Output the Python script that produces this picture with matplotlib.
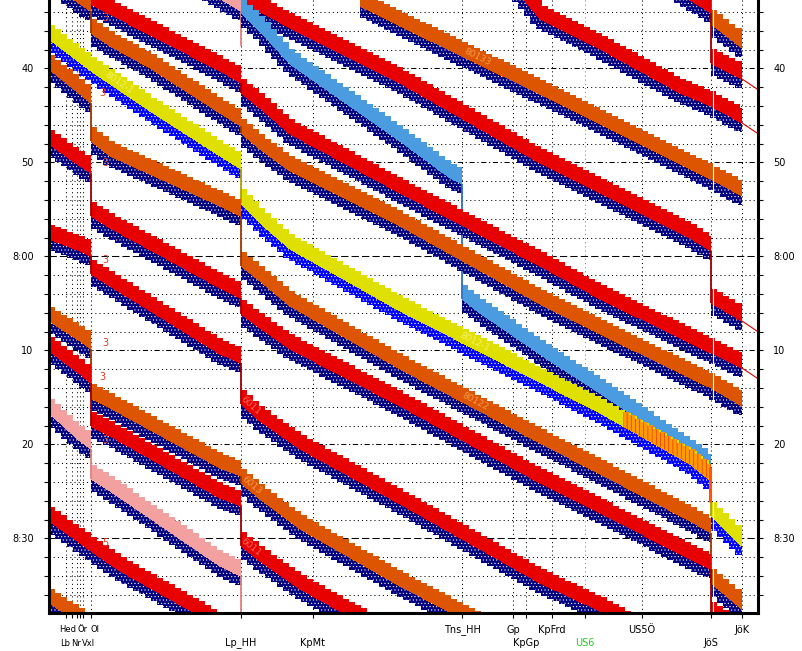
import numpy as np
import matplotlib
matplotlib.use("Agg")
import matplotlib.pyplot as plt
from matplotlib.patches import Polygon

plt.rcParams['font.family'] = ['DejaVu Sans']
plt.rcParams['hatch.linewidth'] = 0.4

# ---------------- stations (km along the line) ----------------
station_names = ["Lb", "Hed", "Nr", "Ör", "Vxl", "Ol", "Lp_HH", "KpMt", "Tns_HH",
                 "Gp", "KpGp", "KpFrd", "US6", "US5Ö", "JöS", "JöK"]
station_km = [1.7, 2.3, 2.8, 3.1, 3.4, 4.2, 19.2, 26.4, 41.3,
              46.4, 47.7, 50.3, 53.6, 59.3, 66.2, 69.3]
station_row = [2, 1, 2, 1, 2, 1, 2, 2, 1, 1, 2, 1, 2, 1, 2, 1]
# label centre (km) where it differs from the tick, and its font size
station_label_km = [1.6, 1.85, 2.75, 3.4, 3.95, 4.6, 19.2, 26.4, 41.3,
                    46.4, 47.7, 50.3, 53.6, 59.3, 66.2, 69.3]
station_label_size = [6, 6, 6, 6, 6, 6, 7, 7, 7, 7, 7, 7, 7, 7, 7, 7]

# ---------------- time axis (minutes after 7:00) ----------------
t_top = 32.73
t_bottom = 97.94
major_minutes = [40, 50, 60, 70, 80, 90]
major_labels = ["40", "50", "8:00", "10", "20", "8:30"]

# ---------------- train paths: (km, minutes after 7:00); repeated km = stop ----------------
tr_o1 = [(64.1, 30.71), (66.2, 31.77), (66.2, 35.28), (69.3, 37.83)]
tr_r1 = [(60.1, 30.17), (65.1, 33.37), (66.2, 34.11), (66.2, 39.43), (69.3, 41.13)]
tr_r2 = [(45.1, 29.64), (49.1, 34.75), (55.1, 37.94), (63.1, 42.62), (66.2, 44.00), (69.3, 45.81)]
tr_o2 = [(31.1, 33.37), (35.1, 35.49), (49.1, 42.73), (55.1, 45.92), (63.1, 50.17), (66.2, 51.77),
         (69.3, 53.58)]
tr_r3 = [(19.2, 32.84), (24.1, 35.71), (35.1, 41.56), (49.1, 50.07), (55.1, 53.26), (64.1, 58.05),
         (65.1, 58.69), (66.2, 59.43), (66.2, 64.96), (69.3, 66.88)]
tr_p1 = [(14.1, 30.71), (19.2, 33.90), (19.2, 37.62)]
tr_b1 = [(19.2, 34.11), (21.1, 36.03), (24.1, 39.54), (35.1, 47.73), (40.1, 51.66), (41.3, 52.30),
         (41.3, 64.54), (43.1, 66.03), (50.1, 71.13), (55.1, 74.54), (65.4, 81.98), (66.2, 82.83)]
tr_r4 = [(4.2, 33.20), (17.1, 40.28), (19.2, 41.56), (19.2, 42.62), (21.1, 44.22), (24.1, 46.98),
         (35.1, 53.26), (49.1, 61.03), (55.1, 64.54), (66.2, 70.28), (69.3, 71.88)]
tr_o3 = [(0.0, 30.71), (3.1, 33.15), (4.2, 33.90), (4.2, 36.24), (6.1, 37.62), (10.1, 39.96),
         (17.1, 44.75), (19.2, 46.13), (19.2, 46.88), (21.1, 48.59), (24.1, 50.92), (35.1, 56.77),
         (49.1, 65.07), (55.1, 68.26), (66.2, 74.00), (69.3, 75.92)]
tr_y1 = [(0.0, 36.88), (4.2, 40.28), (10.1, 44.54), (17.1, 49.32), (19.2, 50.71), (19.2, 54.32),
         (21.1, 56.45), (24.1, 59.22), (35.1, 65.81), (55.1, 76.66), (64.1, 82.09), (66.2, 83.90),
         (66.2, 87.62), (69.3, 90.81)]
tr_o4 = [(0.0, 40.07), (3.1, 42.73), (4.2, 43.69), (4.2, 47.73), (6.1, 49.32), (17.1, 54.64),
         (19.2, 55.71), (19.2, 61.03), (21.1, 62.62), (24.1, 65.28), (35.1, 71.98), (49.1, 79.86),
         (55.1, 83.15), (64.1, 88.15), (66.2, 89.43), (66.2, 94.75), (69.3, 97.52)]
tr_r5 = [(0.0, 48.05), (3.1, 50.39), (4.2, 51.13), (4.2, 55.71), (6.1, 56.98), (17.1, 63.37),
         (19.2, 64.43), (19.2, 66.13), (21.1, 67.62), (24.1, 69.86), (35.1, 75.92), (49.1, 84.11),
         (55.1, 87.30), (64.1, 92.20), (66.2, 93.26), (66.2, 98.26), (69.3, 100.39)]
tr_r6 = [(0.0, 58.15), (3.1, 59.43), (4.2, 59.96), (4.2, 61.88), (6.1, 63.15), (17.1, 70.39),
         (19.2, 71.34), (19.2, 75.71), (21.1, 77.52), (25.1, 80.49), (35.1, 86.34), (49.1, 94.75),
         (55.1, 97.73), (59.1, 100.07)]
tr_o5 = [(0.0, 66.88), (3.1, 69.00), (4.2, 69.86), (4.2, 75.07), (6.1, 76.13), (17.1, 82.52),
         (19.2, 83.37), (19.2, 84.11), (21.1, 85.81), (25.1, 89.00), (35.1, 95.07), (44.1, 100.07)]
tr_r7 = [(0.0, 70.07), (3.1, 72.52), (4.2, 73.47), (4.2, 78.05), (6.1, 79.11), (17.1, 85.71),
         (19.2, 86.56), (19.2, 90.81), (21.1, 92.41), (25.1, 95.39), (33.1, 100.07)]
tr_p2 = [(0.0, 76.66), (3.1, 79.64), (4.2, 80.49), (4.2, 83.69), (6.1, 84.96), (17.1, 92.94),
         (19.2, 94.00), (19.2, 99.60)]
tr_r8 = [(0.0, 88.15), (3.1, 90.49), (4.2, 91.34), (7.1, 93.47), (15.1, 98.26), (18.1, 100.39)]
tr_o6 = [(0.0, 96.88), (5.1, 100.39)]

trains = [(tr_o1, "orange"), (tr_r1, "red"), (tr_r2, "red"), (tr_o2, "orange"), (tr_r3, "red"),
          (tr_p1, "pink"), (tr_b1, "lblue"), (tr_r4, "red"), (tr_o3, "orange"), (tr_y1, "yellow"),
          (tr_o4, "orange"), (tr_r5, "red"), (tr_r6, "red"), (tr_o5, "orange"), (tr_r7, "red"),
          (tr_p2, "pink"), (tr_r8, "red"), (tr_o6, "orange")]

# continuation of red trains beyond JöK (thin line)
extensions = [(tr_r1, (71.1, 42.41)), (tr_r2, (71.1, 47.09)), (tr_r3, (71.1, 68.16)),
              (tr_r4, (71.1, 73.16))]

# conflict zone on the yellow train (km range)
conflict_train = tr_y1
conflict_km = (57.4, 66.2)

# small stop labels at Ol and train numbers
stop_labels = [("3", 5.3, 34.6), ("3", 5.0, 42.6), ("3", 5.3, 50.1), ("3", 5.3, 60.4),
               ("3", 5.3, 69.2), ("3", 5.0, 72.8), ("3", 5.3, 79.5), ("5", 5.3, 90.5)]
train_labels = [("80133", tr_o2, 42.8), ("8012-1", tr_y1, 42.6), ("80122", tr_o4, 42.6),
                ("8012-1", tr_y1, 7.0), ("6013", tr_o5, 20.3), ("6011", tr_r7, 20.2),
                ("6011", tr_r6, 20.2)]

# ---------------- style ----------------
KIND = {
    "red":    ("#e80000", "#000080", "#a00000"),
    "orange": ("#dd5500", "#000080", "#a03800"),
    "yellow": ("#e0e000", "#0000ff", "#b0a000"),
    "lblue":  ("#4a9be0", "#000080", "#3070c0"),
    "pink":   ("#f2a0a0", "#000080", "#e08080"),
}
LABEL_COL = {"red": "#ff6a5a", "orange": "#f59a50", "yellow": "#f6f070", "lblue": "#9ccaf0",
             "pink": "#f5c8c8"}
OCC = 1.45     # blocking time before train line (minutes)
CLR = 0.95     # clearing time after train line (minutes)
BLOCK = 0.6    # block section length (km)


def split_path(path):
    runs, dwells, cur = [], [], [path[0]]
    for p in path[1:]:
        if p[0] == cur[-1][0]:
            dwells.append((p[0], cur[-1][1], p[1]))
            if len(cur) > 1:
                runs.append(cur)
            cur = [p]
        else:
            cur.append(p)
    if len(cur) > 1:
        runs.append(cur)
    return runs, dwells


def band_polys(x, t):
    b = np.arange(x[0], x[-1], BLOCK)
    b = np.append(b, x[-1])
    if len(b) > 2 and b[-1] - b[-2] < 0.25 * BLOCK:
        b = np.delete(b, -2)
    tb = np.interp(b, x, t)
    xd = np.linspace(x[0], x[-1], 300)
    td = np.interp(xd, x, t)
    up, lo = [], []
    for k in range(len(b) - 1):
        up += [(b[k], tb[k] - OCC), (b[k + 1], tb[k] - OCC)]
        lo += [(b[k], tb[k + 1] + CLR), (b[k + 1], tb[k + 1] + CLR)]
    line = list(zip(xd, td))
    return up + line[::-1], line + lo[::-1]


fig = plt.figure(figsize=(8.03, 6.51), dpi=100)
ax = fig.add_axes([49 / 803, 38 / 651, 709 / 803, 613 / 651])
ax.set_xlim(0, 70.9)
ax.set_ylim(t_bottom, t_top)

# grid
for m in np.arange(34, 98, 2):
    if m % 30 == 0:
        ls = (0, (7, 3))
    elif m % 10 == 0:
        ls = (0, (5, 2.5, 1.2, 2.5))
    else:
        ls = (0, (1, 3))
    ax.plot([0, 70.9], [m, m], color="black", lw=0.75, ls=ls, zorder=0.5)
for name, km in zip(station_names, station_km):
    col = "#22cc22" if name == "US6" else "black"
    ax.plot([km, km], [t_top, t_bottom], color=col, lw=0.75, ls=(0, (1, 3)), zorder=0.5)

# trains
for i, (path, kind) in enumerate(trains):
    face, lower, dark = KIND[kind]
    z = 2 + i * 0.01
    runs, dwells = split_path(path)
    for run in runs:
        x = np.array([p[0] for p in run])
        t = np.array([p[1] for p in run])
        occ, clr = band_polys(x, t)
        ax.add_patch(Polygon(clr, closed=True, facecolor=lower, edgecolor="white",
                             hatch=".....", lw=0, zorder=z, antialiased=False))
        ax.add_patch(Polygon(occ, closed=True, facecolor=face, edgecolor="none",
                             lw=0, zorder=z + 0.001, antialiased=False))
    for km, ta, td in dwells:
        ax.plot([km, km], [ta, td], color=dark, lw=1.3, zorder=z + 0.002,
                solid_capstyle="butt")

# conflict zone on the yellow train
runs, dwells = split_path(conflict_train)
for run in runs:
    x = np.array([p[0] for p in run])
    t = np.array([p[1] for p in run])
    if x[0] <= conflict_km[0] < x[-1]:
        keep = x > conflict_km[0]
        xs = np.concatenate([[conflict_km[0]], x[keep]])
        ts = np.interp(xs, x, t)
        occ, _ = band_polys(xs, ts)
        ax.add_patch(Polygon(occ, closed=True, facecolor="#ff9a00", edgecolor="#ee1100",
                             hatch="||||", lw=0, zorder=3.5, antialiased=False))
for km, ta, td in dwells:
    if abs(km - conflict_km[1]) < 1e-6:
        ax.plot([km - 0.1, km - 0.1], [ta - OCC, td - OCC], color="#ff5500", lw=2.2, zorder=3.6,
                solid_capstyle="butt")

# station gap at JöS
ax.plot([66.36, 66.36], [t_top, t_bottom], color="white", lw=0.8, zorder=3.8)

# thin continuation lines
for path, (ke, te) in extensions:
    ax.plot([path[-1][0], ke], [path[-1][1], te], color="#dd0000", lw=0.8, zorder=4)

# labels
for txt, km, m in stop_labels:
    ax.text(km, m, txt, color="#e03a20", fontsize=7, ha="left", va="center", zorder=5)
for txt, path, km in train_labels:
    runs, _ = split_path(path)
    for run in runs:
        rx = np.array([p[0] for p in run]); rt = np.array([p[1] for p in run])
        if rx[0] <= km <= rx[-1]:
            tc = np.interp(km, rx, rt) - OCC / 2
            t2 = np.interp(km + 1.0, rx, rt) - OCC / 2
            p1 = ax.transData.transform((km, tc)); p2 = ax.transData.transform((km + 1.0, t2))
            ang = np.degrees(np.arctan2(p2[1] - p1[1], p2[0] - p1[0]))
            kind = [k for (pp, k) in trains if pp is path][0]
            ax.text(km, tc, txt, color=LABEL_COL[kind], fontsize=6.5, rotation=ang,
                    rotation_mode="anchor", ha="center", va="center", zorder=5)
            break

# axes cosmetics
ax.spines["top"].set_visible(False)
for s in ("left", "right", "bottom"):
    ax.spines[s].set_linewidth(2.2)
    ax.spines[s].set_zorder(10)
ax.set_yticks(major_minutes)
ax.set_yticklabels(major_labels)
ax.set_yticks(np.arange(34, 98, 2), minor=True)
ax.tick_params(axis="y", which="both", direction="out", length=3.6, width=0.8,
               left=True, right=True, labelleft=True, labelright=True, labelsize=7, pad=7.5)
ax.set_xticks(station_km)
ax.set_xticklabels([])
ax.tick_params(axis="x", direction="out", length=3.6, width=0.8)
trans = ax.get_xaxis_transform()
for name, km, row, fs in zip(station_names, station_label_km, station_row, station_label_size):
    y = -0.0275 if row == 1 else -0.049
    col = "#22cc22" if name == "US6" else "black"
    ax.text(km, y, name, transform=trans, ha="center", va="center", fontsize=fs, color=col,
            clip_on=False)

fig.savefig("out.png", dpi=100)
